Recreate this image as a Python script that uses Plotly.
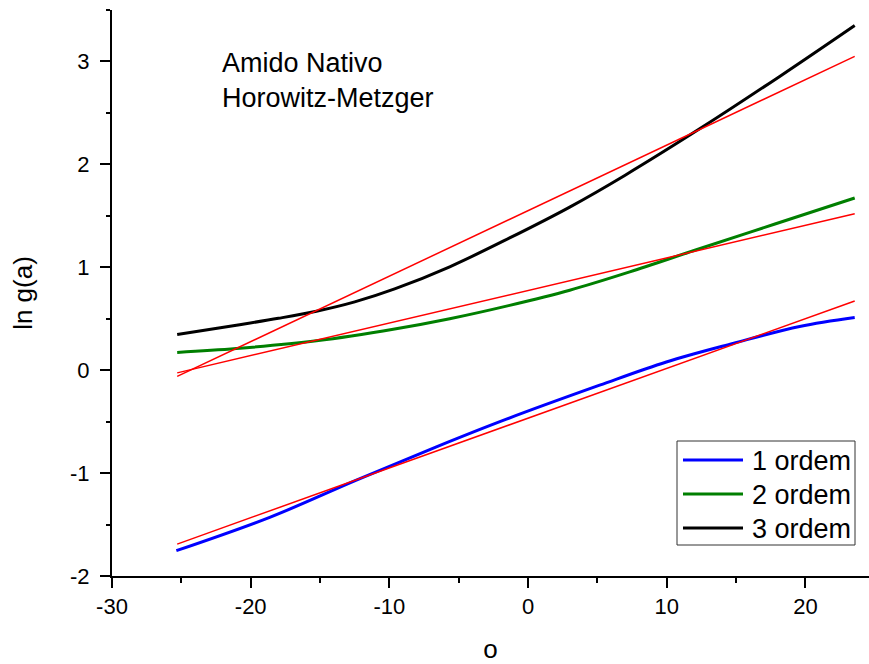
import plotly.graph_objects as go

# Curves: ln g(a) versus o for the three expansion orders
x_ord1 = [-25.36, -18.63, -12.38, -6.61, -1.56, 5.16, 9.97, 14.77, 19.58, 23.55]
y_ord1 = [-1.754, -1.430, -1.068, -0.745, -0.476, -0.146, 0.080, 0.260, 0.425, 0.512]

x_ord2 = [-25.3, -21.03, -15.26, -9.62, -5.65, -1.33, 3.0, 7.33, 12.13, 17.8, 23.55]
y_ord2 = [0.172, 0.210, 0.285, 0.400, 0.500, 0.630, 0.777, 0.955, 1.170, 1.420, 1.673]

x_ord3 = [-25.3, -21.03, -18.0, -15.26, -12.5, -9.62, -5.65, -1.33, 3.0, 7.0, 12.37, 18.14, 23.55]
y_ord3 = [0.347, 0.437, 0.504, 0.573, 0.664, 0.790, 1.005, 1.285, 1.585, 1.895, 2.345, 2.855, 3.350]

# Linear fits (end points of each straight line)
x_fit = [-25.3, 23.55]
y_fit1 = [-1.69, 0.673]
y_fit2 = [-0.026, 1.52]
y_fit3 = [-0.06, 3.05]

labels = ["1 ordem", "2 ordem", "3 ordem"]
colors = ["#0000ff", "#007f00", "#000000"]

# Axis ticks (plain hyphen for negative numbers)
x_ticks = [-30, -20, -10, 0, 10, 20]
x_ticktext = ["-30", "-20", "-10", "0", "10", "20"]
y_ticks = [-2, -1, 0, 1, 2, 3]
y_ticktext = ["-2", "-1", "0", "1", "2", "3"]

FONT = "Liberation Sans, Arial, sans-serif"

# Plot area geometry in pixels (used to place the legend box)
W, H = 869, 664
ML, MR, MT, MB = 112, 0, 10, 88
PW, PH = W - ML - MR, H - MT - MB


def px_x(p):
    return (p - ML) / PW


def px_y(p):
    return (H - MB - p) / PH


fig = go.Figure()
for xs, ys, name, col in [(x_ord1, y_ord1, labels[0], colors[0]),
                          (x_ord2, y_ord2, labels[1], colors[1]),
                          (x_ord3, y_ord3, labels[2], colors[2])]:
    fig.add_trace(go.Scatter(x=xs, y=ys, mode="lines", name=name, showlegend=False,
                             line=dict(color=col, width=3, shape="spline", smoothing=1.0)))

for yf in (y_fit1, y_fit2, y_fit3):
    fig.add_trace(go.Scatter(x=x_fit, y=yf, mode="lines", showlegend=False,
                             line=dict(color="#ff0000", width=1.5)))

fig.add_annotation(text="Amido Nativo<br>Horowitz-Metzger", xref="paper", yref="paper",
                   x=px_x(220), y=px_y(46), xanchor="left", yanchor="top",
                   align="left", showarrow=False,
                   font=dict(family=FONT, size=27, color="black"))

# Legend box with line samples and labels
shapes = [dict(type="rect", xref="paper", yref="paper",
               x0=px_x(677), x1=px_x(855), y0=px_y(545), y1=px_y(441),
               line=dict(color="#333333", width=1), fillcolor="white", layer="above")]
entry_y = [460, 494, 528]
for lab, col, ey in zip(labels, colors, entry_y):
    shapes.append(dict(type="line", xref="paper", yref="paper",
                       x0=px_x(683), x1=px_x(743), y0=px_y(ey), y1=px_y(ey),
                       line=dict(color=col, width=3), layer="above"))
    fig.add_annotation(text=lab, xref="paper", yref="paper", x=px_x(750), y=px_y(ey + 1),
                       xanchor="left", yanchor="middle", showarrow=False,
                       font=dict(family=FONT, size=27, color="black"))

axis_common = dict(showline=True, linecolor="black", linewidth=2, ticks="outside",
                   ticklen=10, tickwidth=2, tickcolor="black", showgrid=False, zeroline=False,
                   tickfont=dict(family=FONT, size=22, color="black"), mirror=False)

fig.update_xaxes(range=[-30, 24.58], tickvals=x_ticks, ticktext=x_ticktext,
                 minor=dict(ticks="outside", ticklen=5, tickwidth=2, tickcolor="black", dtick=5, tick0=-30),
                 title=dict(text="o", font=dict(family=FONT, size=26, color="black"), standoff=24),
                 **axis_common)
fig.update_yaxes(range=[-2, 3.5], tickvals=y_ticks, ticktext=y_ticktext,
                 minor=dict(ticks="outside", ticklen=4, tickwidth=2, tickcolor="black", dtick=0.5, tick0=-2),
                 ticklabelstandoff=6,
                 title=dict(text="ln g(a)", font=dict(family=FONT, size=26, color="black"), standoff=30),
                 **axis_common)

fig.update_layout(
    width=W, height=H,
    margin=dict(l=ML, r=MR, t=MT, b=MB),
    plot_bgcolor="white", paper_bgcolor="white",
    showlegend=False,
    shapes=shapes,
)

fig.write_html("out.html")
